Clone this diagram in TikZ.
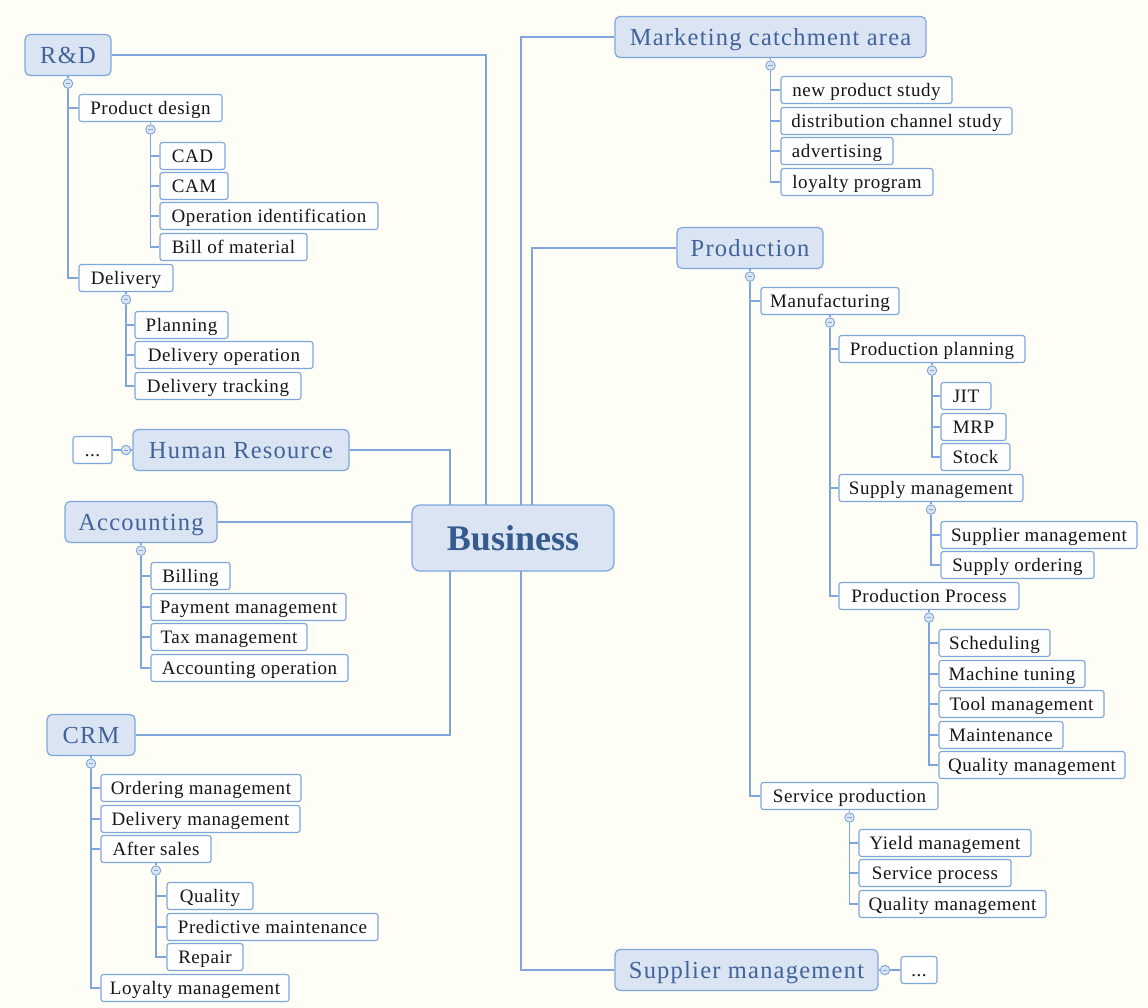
\documentclass[tikz,border=0pt]{standalone}
\usepackage{fontspec}
\setmainfont{Liberation Serif}
\newfontfamily\chfont[LetterSpace=3]{Liberation Serif}
\newfontfamily\tpfont[LetterSpace=5]{Liberation Serif}
\definecolor{bg}{HTML}{FEFEF6}
\definecolor{lc}{HTML}{7EA6DC}
\definecolor{tfill}{HTML}{DAE4F2}
\definecolor{ttext}{HTML}{41639A}
\definecolor{btext}{HTML}{345A8E}
\definecolor{ctext}{HTML}{151515}
\tikzset{
 tb/.style={draw=lc, fill=tfill, rounded corners=5pt, line width=1.2pt, inner sep=0pt, minimum height=41pt, text=ttext, font=\tpfont\fontsize{24.5}{27}\selectfont, text height=16.2pt, text depth=0pt},
 cb/.style={draw=lc, fill=white, rounded corners=2.5pt, line width=1.1pt, inner sep=0pt, minimum height=27pt, text=ctext, font=\chfont\fontsize{19}{22}\selectfont, text height=12.6pt, text depth=0pt},
 conn/.style={draw=lc, line width=1.2pt},
 coll/.style={circle, draw=lc, fill=tfill, line width=0.9pt, minimum size=9.5pt, inner sep=0pt, path picture={\draw[lc, line width=0.8pt] ([xshift=-2.4pt]path picture bounding box.center) -- ([xshift=2.4pt]path picture bounding box.center);}},
}
\newcommand\tbx[5]{\node[tb, minimum width={#3-#2}] (#1) at ({(#2+#3)/2},#4) {#5};}
\newcommand\cbx[5]{\node[cb, minimum width={#3-#2}] (#1) at ({(#2+#3)/2},#4) {#5};}
\newcommand\collp[1]{\node[coll] (#1c) at ([yshift=-7.5pt]#1.south) {};\draw[conn] (#1.south) -- (#1c.north);}
\newcommand\kids[2]{\foreach \k in {#2} {\draw[conn] (#1c.south) |- (\k.west);}}
\begin{document}
\begin{tikzpicture}[x=1pt,y=-1pt]
\fill[bg] (0,0) rectangle (1148,1008);
\useasboundingbox (0,0) rectangle (1148,1008);
% central
\node[tb, minimum width=202pt, minimum height=66pt, rounded corners=8pt, font=\fontsize{36}{40}\selectfont\bfseries, text=btext, text height=24.3pt, text depth=0pt] (biz) at (513,538) {Business};
\coordinate (bt1) at (450,505);
\coordinate (bt2) at (486,505);
\coordinate (bt3) at (521,505);
\coordinate (bt4) at (532,505);
\coordinate (bb1) at (450,571);
\coordinate (bb2) at (521,571);
% top level
\tbx{rd}{25}{111}{55}{R\&D}
\tbx{hr}{133}{349}{450}{Human Resource}
\tbx{acc}{65}{217}{522}{Accounting}
\tbx{crm}{47}{135}{735}{CRM}
\tbx{mkt}{615}{926}{37}{Marketing catchment area}
\tbx{prod}{677}{823}{248}{Production}
\tbx{sup}{615}{878}{970}{Supplier management}
% main connectors
\draw[conn] (rd.east) -| (bt2);
\draw[conn] (hr.east) -| (bt1);
\draw[conn] (acc.east) -- (acc.east -| biz.west);
\draw[conn] (crm.east) -| (bb1);
\draw[conn] (bt3) |- (mkt.west);
\draw[conn] (bt4) |- (prod.west);
\draw[conn] (bb2) |- (sup.west);
% R&D
\cbx{pd}{79}{222}{108}{Product design}
\cbx{cad}{160}{225}{156}{CAD}
\cbx{cam}{160}{228}{186}{CAM}
\cbx{opid}{160}{378}{216}{Operation identification}
\cbx{bom}{160}{307}{247}{Bill of material}
\cbx{del}{79}{173}{278}{Delivery}
\cbx{plan}{135}{228}{325}{Planning}
\cbx{delop}{135}{313}{355}{Delivery operation}
\cbx{deltr}{135}{301}{386}{Delivery tracking}
\collp{rd}\kids{rd}{pd,del}
\collp{pd}\kids{pd}{cad,cam,opid,bom}
\collp{del}\kids{del}{plan,delop,deltr}
% HR
\cbx{hrdots}{73}{112}{450}{...}
\node[coll] (hrc) at (126,450) {};
\draw[conn] (hr.west) -- (hrc.east);
\draw[conn] (hrc.west) -- (hrdots.east);
% Accounting
\cbx{bill}{151}{230}{576}{Billing}
\cbx{pay}{151}{346}{607}{Payment management}
\cbx{tax}{151}{307}{637}{Tax management}
\cbx{accop}{151}{348}{668}{Accounting operation}
\collp{acc}\kids{acc}{bill,pay,tax,accop}
% CRM
\cbx{ord}{101}{301}{788}{Ordering management}
\cbx{delm}{101}{300}{819}{Delivery management}
\cbx{after}{101}{211}{849}{After sales}
\cbx{qual}{167}{253}{896}{Quality}
\cbx{pred}{167}{378}{927}{Predictive maintenance}
\cbx{rep}{167}{243}{957}{Repair}
\cbx{loy}{101}{289}{988}{Loyalty management}
\collp{crm}\kids{crm}{ord,delm,after,loy}
\collp{after}\kids{after}{qual,pred,rep}
% Marketing
\cbx{nps}{781}{952}{90}{new product study}
\cbx{dcs}{781}{1012}{121}{distribution channel study}
\cbx{adv}{781}{893}{151}{advertising}
\cbx{lp}{781}{933}{182}{loyalty program}
\collp{mkt}\kids{mkt}{nps,dcs,adv,lp}
% Production
\cbx{manu}{761}{899}{301}{Manufacturing}
\cbx{pplan}{839}{1025}{349}{Production planning}
\cbx{jit}{941}{991}{396}{JIT}
\cbx{mrp}{941}{1006}{427}{MRP}
\cbx{stock}{941}{1010}{457}{Stock}
\cbx{smg}{839}{1023}{488}{Supply management}
\cbx{supm}{941}{1137}{535}{Supplier management}
\cbx{supo}{941}{1094}{565}{Supply ordering}
\cbx{pproc}{839}{1019}{596}{Production Process}
\cbx{sched}{939}{1050}{643}{Scheduling}
\cbx{mach}{939}{1085}{674}{Machine tuning}
\cbx{tool}{939}{1104}{704}{Tool management}
\cbx{maint}{939}{1063}{735}{Maintenance}
\cbx{qma}{939}{1125}{765}{Quality management}
\cbx{servp}{761}{938}{796}{Service production}
\cbx{yield}{859}{1031}{843}{Yield management}
\cbx{sproc}{859}{1011}{873}{Service process}
\cbx{qmb}{859}{1046}{904}{Quality management}
\collp{prod}\kids{prod}{manu,servp}
\collp{manu}\kids{manu}{pplan,smg,pproc}
\collp{pplan}\kids{pplan}{jit,mrp,stock}
\collp{smg}\kids{smg}{supm,supo}
\collp{pproc}\kids{pproc}{sched,mach,tool,maint,qma}
\collp{servp}\kids{servp}{yield,sproc,qmb}
% Supplier
\cbx{supdots}{901}{937}{970}{...}
\node[coll] (supc) at (885,970) {};
\draw[conn] (sup.east) -- (supc.west);
\draw[conn] (supc.east) -- (supdots.west);
\end{tikzpicture}
\end{document}
